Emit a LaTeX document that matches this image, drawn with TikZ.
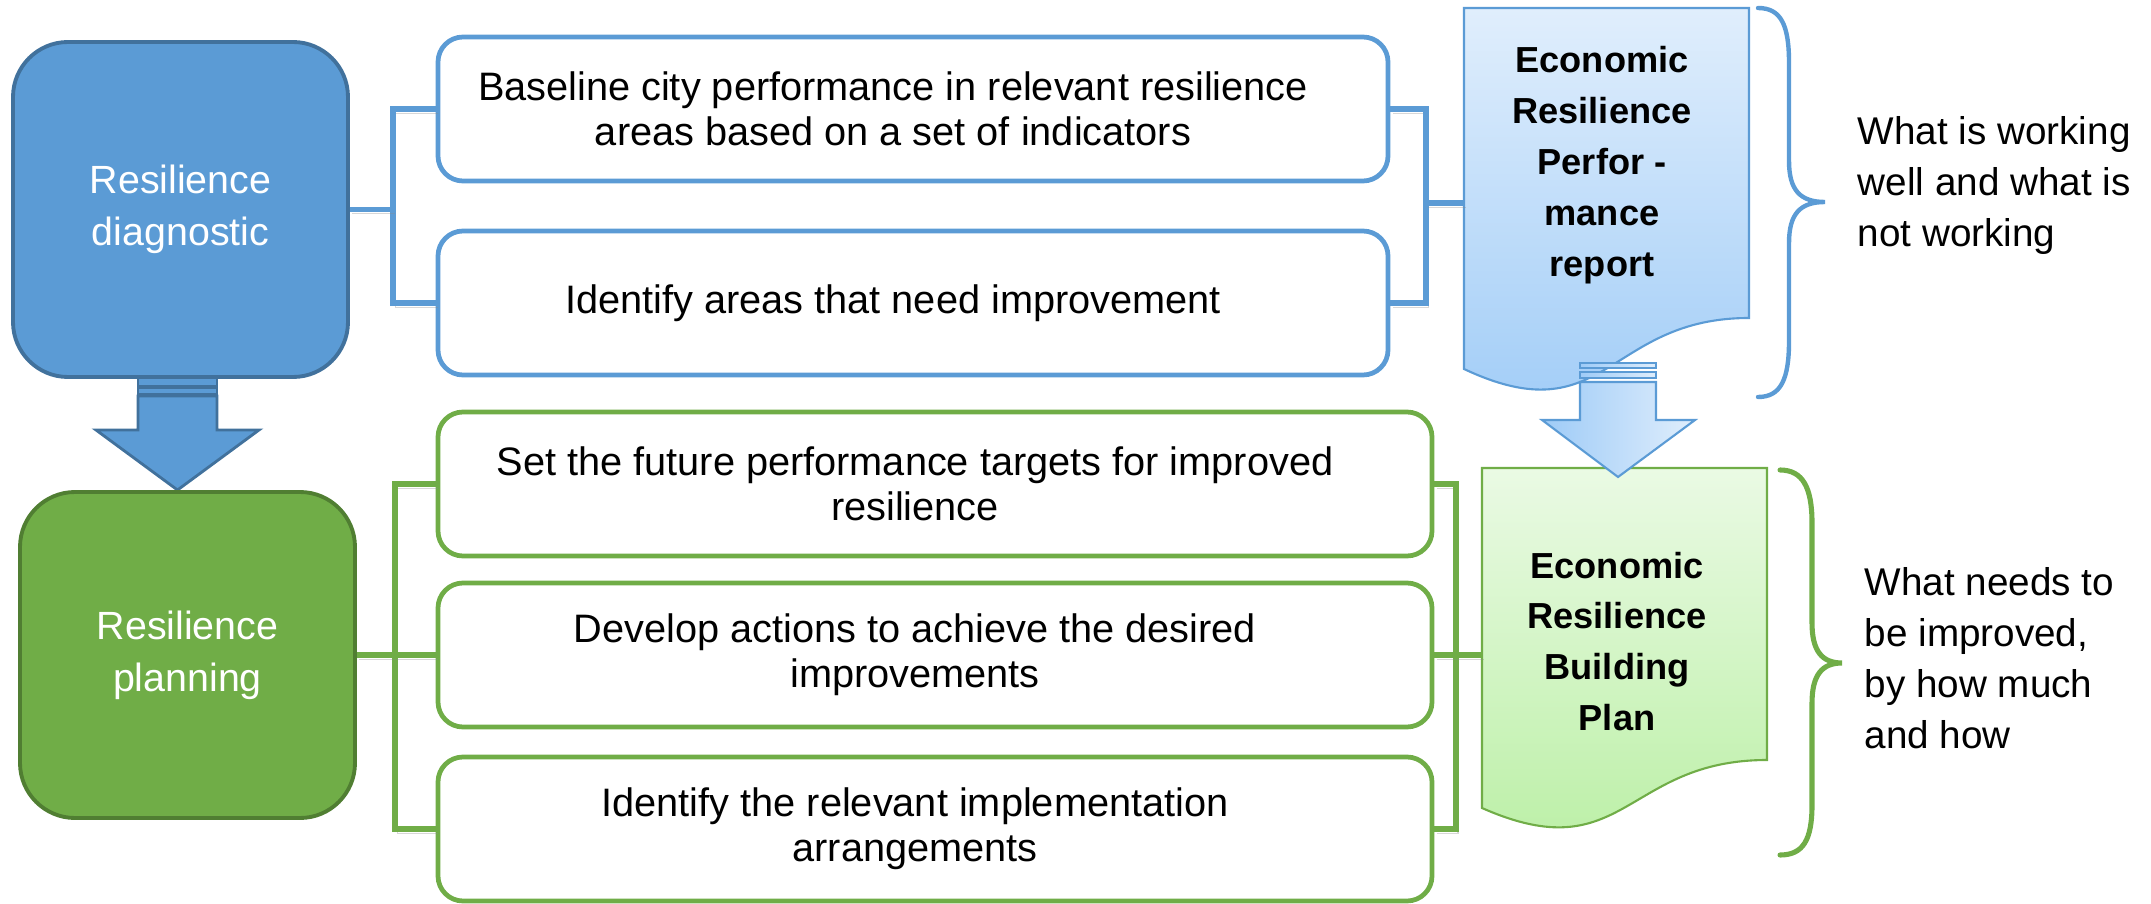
\documentclass[tikz,border=0pt]{standalone}
\usepackage{fontspec}
\setmainfont{Liberation Sans}
\usetikzlibrary{positioning, calc}
\definecolor{DiagBlue}{HTML}{5B9BD5}
\definecolor{DiagEdge}{HTML}{41719C}
\definecolor{PlanGreen}{HTML}{70AD47}
\definecolor{PlanEdge}{HTML}{507E32}
\definecolor{RepTop}{HTML}{E0EEFC}
\definecolor{RepBot}{HTML}{9ECBF7}
\definecolor{BldTop}{HTML}{EAFAE4}
\definecolor{BldBot}{HTML}{B9EFA3}

\begin{document}
\begin{tikzpicture}[
    stage/.style={rounded corners=5.5mm, line width=1.1pt, minimum width=3.35cm,
      minimum height=3.35cm, text=white, align=center,
      font=\fontsize{11.2}{14.7}\selectfont},
    task/.style={draw=#1, rounded corners=2.5mm, line width=1.35pt, fill=white,
      minimum height=1.44cm},
    tasktxt/.style={align=center, font=\fontsize{11.3}{12.8}\selectfont},
    link/.style={draw=#1, line width=1.5pt,
      preaction={draw=black!45, opacity=0.35, transform canvas={xshift=0.7pt, yshift=-1.2pt}}},
    doc/.style={draw=#1, line width=0.6pt},
    doctxt/.style={align=center, font=\fontsize{10.3}{14.5}\selectfont\bfseries},
    brace/.style={draw=#1, line width=1.25pt, line cap=round},
    note/.style={anchor=west, align=left, inner sep=0pt, font=\fontsize{11}{14.5}\selectfont},
  ]
  \useasboundingbox (0,0) rectangle (21.51,9.03);

  % striped arrow from diagnostic down to planning
  \foreach \ya/\yb in {5.31/5.17, 5.15/5.09}
    \draw[fill=DiagBlue, draw=DiagEdge, line width=0.8pt] (1.38,\ya) rectangle (2.17,\yb);
  \draw[fill=DiagBlue, draw=DiagEdge, line width=0.8pt]
    (1.38,5.07) -- (2.17,5.07) -- (2.17,4.73) -- (2.59,4.73) -- (1.775,4.13)
    -- (0.96,4.73) -- (1.38,4.73) -- cycle;

  % stage boxes
  \node[stage, fill=DiagBlue, draw=DiagEdge] (diag) at (1.805,6.935) {Resilience\\diagnostic};
  \node[stage, fill=PlanGreen, draw=PlanEdge, minimum height=3.26cm] (plan) at (1.875,2.48) {Resilience\\planning};

  % task boxes
  \foreach \nm/\col/\cx/\cy/\bw/\txt in {%
      b1/DiagBlue/9.13/7.94/9.50/{Baseline city performance in relevant resilience\\areas based on a set of indicators},
      b2/DiagBlue/9.13/6.00/9.50/{Identify areas that need improvement},
      g1/PlanGreen/9.35/4.19/9.94/{Set the future performance targets for improved\\resilience},
      g2/PlanGreen/9.35/2.48/9.94/{Develop actions to achieve the desired\\improvements},
      g3/PlanGreen/9.35/0.74/9.94/{Identify the relevant implementation\\arrangements}%
  }{
    \node[task=\col, minimum width=\bw cm] (\nm) at (\cx,\cy) {};
    \node[tasktxt, xshift=-2mm] (\nm txt) at (\nm) {\txt};
  }

  % report and plan documents
  \draw[doc=DiagBlue, top color=RepTop, bottom color=RepBot]
    (14.64,8.95) -- (17.49,8.95) -- (17.49,5.85)
    .. controls (16.065,5.85) and (16.065,4.67) .. (14.64,5.34) -- cycle;
  \draw[doc=PlanGreen, top color=BldTop, bottom color=BldBot]
    (14.82,4.35) -- (17.67,4.35) -- (17.67,1.43)
    .. controls (16.245,1.43) and (16.245,0.32) .. (14.82,0.95) -- cycle;
  \node[doctxt] (rep) at (16.02,7.38) {Economic\\Resilience\\Perfor -\\mance\\report};
  \node[doctxt] (bld) at (16.17,2.615) {Economic\\Resilience\\Building\\Plan};
  \coordinate (repin) at (14.64,7.00);
  \coordinate (bldin) at (14.82,2.48);

  % light arrow between the documents
  \foreach \ya/\yb in {5.40/5.35, 5.31/5.25}
    \draw[doc=DiagBlue, left color=RepBot, right color=RepTop] (15.80,\ya) rectangle (16.56,\yb);
  \draw[doc=DiagBlue, left color=RepBot, right color=RepTop]
    (15.80,5.21) -- (16.56,5.21) -- (16.56,4.83) -- (16.95,4.83) -- (16.18,4.26)
    -- (15.42,4.83) -- (15.80,4.83) -- cycle;

  % connectors
  \coordinate (dj) at (3.93,6.935);
  \coordinate (rj) at (14.26,7.00);
  \coordinate (pj) at (3.95,2.48);
  \coordinate (gj) at (14.555,2.48);
  \draw[link=DiagBlue] (b1.west) -| (dj) |- (b2.west);
  \draw[link=DiagBlue] (diag.east) -- (dj);
  \draw[link=DiagBlue] (b1.east) -| (rj) |- (b2.east);
  \draw[link=DiagBlue] (rj) -- (repin);
  \draw[link=PlanGreen, line width=1.7pt] (g1.west) -| (pj) |- (g3.west);
  \draw[link=PlanGreen, line width=1.7pt] (plan.east) -- (g2.west);
  \draw[link=PlanGreen, line width=1.7pt] (g1.east) -| (gj) |- (g3.east);
  \draw[link=PlanGreen, line width=1.7pt] (g2.east) -- (bldin);

  % braces and notes
  \draw[brace=DiagBlue] (17.58,8.95) .. controls (17.81,8.95) and (17.89,8.78) .. (17.89,8.40)
    -- (17.89,7.42) .. controls (17.89,7.13) and (18.00,7.01) .. (18.25,7.01)
    .. controls (18.00,7.01) and (17.89,6.89) .. (17.89,6.60)
    -- (17.89,5.62) .. controls (17.89,5.24) and (17.81,5.06) .. (17.58,5.06);
  \draw[brace=PlanGreen, line width=1.45pt] (17.80,4.33) .. controls (18.03,4.33) and (18.12,4.15) .. (18.12,3.80)
    -- (18.12,2.80) .. controls (18.12,2.52) and (18.22,2.40) .. (18.42,2.40)
    .. controls (18.22,2.40) and (18.12,2.28) .. (18.12,2.00)
    -- (18.12,0.98) .. controls (18.12,0.63) and (18.03,0.48) .. (17.80,0.48);
  \node[note] (worknote) at (18.57,7.175) {What is working\\well and what is\\not working};
  \node[note] (needsnote) at (18.64,2.45) {What needs to\\be improved,\\by how much\\and how};
\end{tikzpicture}
\end{document}
